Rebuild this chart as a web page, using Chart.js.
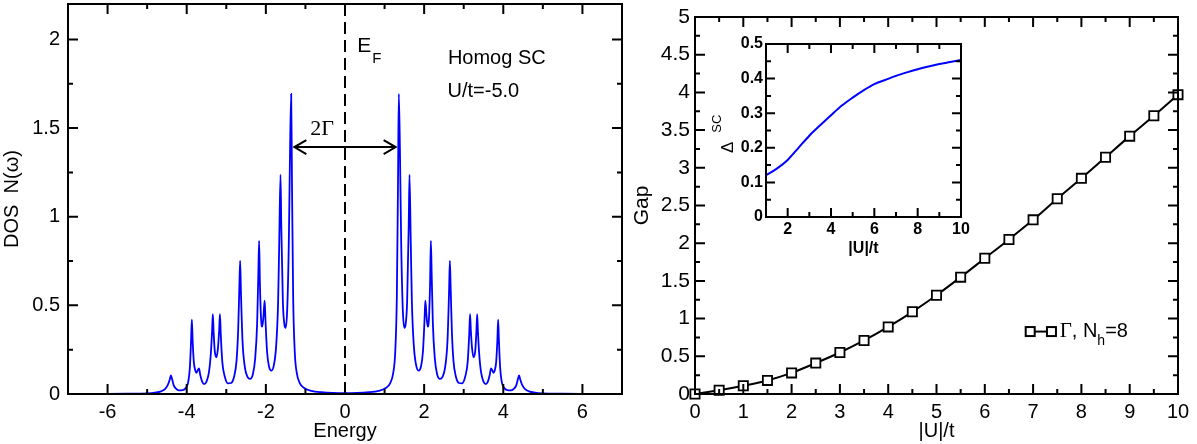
<!DOCTYPE html>
<html>
<head>
<meta charset="utf-8">
<script src="https://cdn.jsdelivr.net/npm/chart.js@4.4.1/dist/chart.umd.min.js"></script>
<style>
  html, body { margin: 0; padding: 0; background: #fff; }
  body { width: 1197px; height: 444px; position: relative; overflow: hidden; }
  canvas { position: absolute; }
  #dos { left: 0; top: 0; }
  #gap { left: 630px; top: 0; }
  #inset { left: 700px; top: 30px; }
</style>
</head>
<body>
<canvas id="dos" width="640" height="444"></canvas>
<canvas id="gap" width="567" height="444"></canvas>
<canvas id="inset" width="275" height="228"></canvas>
<script>
// ---- left panel: density of states, U/t = -5.0 ----
const dosEnergy = [
  -7.00, -6.00, -5.50, -5.00, -4.80, -4.65, -4.55, -4.48, -4.43, -4.40, -4.37, -4.33, -4.27, -4.20,
  -4.10, -4.02, -3.96, -3.92, -3.89, -3.87, -3.85, -3.82, -3.78, -3.75, -3.72, -3.69, -3.66, -3.61,
  -3.56, -3.50, -3.44, -3.39, -3.36, -3.34, -3.32, -3.29, -3.25, -3.21, -3.18, -3.16, -3.14, -3.10,
  -3.04, -2.96, -2.88, -2.80, -2.74, -2.70, -2.67, -2.65, -2.63, -2.59, -2.53, -2.46, -2.40, -2.33,
  -2.27, -2.22, -2.19, -2.17, -2.15, -2.12, -2.09, -2.06, -2.03, -2.01, -1.97, -1.92, -1.86, -1.80,
  -1.74, -1.69, -1.66, -1.63, -1.61, -1.57, -1.53, -1.50, -1.46, -1.42, -1.39, -1.36, -1.34, -1.31,
  -1.27, -1.22, -1.14, -1.02, -0.85, -0.60, -0.30, 0.00,
  0.30, 0.60, 0.85, 1.02, 1.14, 1.22, 1.27, 1.31, 1.34, 1.36, 1.39, 1.42, 1.46, 1.50,
  1.53, 1.57, 1.61, 1.63, 1.66, 1.69, 1.74, 1.80, 1.86, 1.92, 1.97, 2.01, 2.03, 2.06,
  2.09, 2.12, 2.15, 2.17, 2.19, 2.22, 2.27, 2.33, 2.40, 2.46, 2.53, 2.59, 2.63, 2.65,
  2.67, 2.70, 2.74, 2.80, 2.88, 2.96, 3.04, 3.10, 3.14, 3.16, 3.18, 3.21, 3.25, 3.29,
  3.32, 3.34, 3.36, 3.39, 3.44, 3.50, 3.56, 3.61, 3.66, 3.69, 3.72, 3.75, 3.78, 3.82,
  3.85, 3.87, 3.89, 3.92, 3.96, 4.02, 4.10, 4.20, 4.27, 4.33, 4.37, 4.40, 4.43, 4.48,
  4.55, 4.65, 4.80, 5.00, 5.50, 6.00, 7.00
];
const dosValue = [
  0.000, 0.001, 0.002, 0.004, 0.008, 0.015, 0.028, 0.050, 0.080, 0.105, 0.085, 0.050, 0.030, 0.021,
  0.022, 0.035, 0.070, 0.150, 0.300, 0.420, 0.300, 0.180, 0.130, 0.120, 0.135, 0.145, 0.110, 0.070,
  0.056, 0.070, 0.120, 0.230, 0.350, 0.450, 0.350, 0.240, 0.207, 0.260, 0.360, 0.450, 0.340, 0.180,
  0.100, 0.060, 0.062, 0.100, 0.190, 0.360, 0.600, 0.751, 0.580, 0.300, 0.150, 0.095, 0.085, 0.110,
  0.200, 0.400, 0.680, 0.864, 0.620, 0.420, 0.380, 0.440, 0.527, 0.420, 0.240, 0.155, 0.132, 0.160,
  0.270, 0.520, 0.880, 1.237, 0.950, 0.520, 0.390, 0.373, 0.480, 0.850, 1.350, 1.693, 1.200, 0.550,
  0.240, 0.120, 0.060, 0.032, 0.018, 0.010, 0.006, 0.005,
  0.006, 0.010, 0.018, 0.032, 0.060, 0.120, 0.240, 0.550, 1.200, 1.693, 1.350, 0.850, 0.480, 0.373,
  0.390, 0.520, 0.950, 1.237, 0.880, 0.520, 0.270, 0.160, 0.132, 0.155, 0.240, 0.420, 0.527, 0.440,
  0.380, 0.420, 0.620, 0.864, 0.680, 0.400, 0.200, 0.110, 0.085, 0.095, 0.150, 0.300, 0.580, 0.751,
  0.600, 0.360, 0.190, 0.100, 0.062, 0.060, 0.100, 0.180, 0.340, 0.450, 0.360, 0.260, 0.207, 0.240,
  0.350, 0.450, 0.350, 0.230, 0.120, 0.070, 0.056, 0.070, 0.110, 0.145, 0.135, 0.120, 0.130, 0.180,
  0.300, 0.420, 0.300, 0.150, 0.070, 0.035, 0.022, 0.021, 0.030, 0.050, 0.085, 0.105, 0.080, 0.050,
  0.028, 0.015, 0.008, 0.004, 0.002, 0.001, 0.000
];
const fermiX = [0, 0];
const fermiY = [0, 2.2];
const dosXTicks = [-6, -4, -2, 0, 2, 4, 6];
const dosXMinor = [-7, -5, -3, -1, 1, 3, 5, 7];
const dosYTicks = [0, 0.5, 1, 1.5, 2];
const dosYMinor = [0.25, 0.75, 1.25, 1.75];

// ---- right panel: gap vs |U|/t ----
const gapU = [0, 0.5, 1, 1.5, 2, 2.5, 3, 3.5, 4, 4.5, 5, 5.5, 6, 6.5, 7, 7.5, 8, 8.5, 9, 9.5, 10];
const gapVal = [0, 0.05, 0.11, 0.18, 0.28, 0.41, 0.55, 0.71, 0.89, 1.09, 1.31, 1.55, 1.80, 2.05, 2.31, 2.59, 2.86, 3.14, 3.42, 3.69, 3.97];
const gapXTicks = [0, 1, 2, 3, 4, 5, 6, 7, 8, 9, 10];
const gapXMinor = [0.5, 1.5, 2.5, 3.5, 4.5, 5.5, 6.5, 7.5, 8.5, 9.5];
const gapYTicks = [0, 0.5, 1, 1.5, 2, 2.5, 3, 3.5, 4, 4.5, 5];
const gapYMinor = [0.25, 0.75, 1.25, 1.75, 2.25, 2.75, 3.25, 3.75, 4.25, 4.75];

// ---- inset: order parameter ----
const scU = [1, 1.5, 2, 2.5, 3, 3.5, 4, 4.5, 5, 5.5, 6, 6.5, 7, 7.5, 8, 8.5, 9, 9.5, 10];
const scDelta = [0.121, 0.140, 0.165, 0.200, 0.235, 0.265, 0.294, 0.322, 0.345, 0.366, 0.384, 0.396, 0.408, 0.418, 0.427, 0.435, 0.442, 0.448, 0.454];
const scXTicks = [2, 4, 6, 8, 10];
const scXMinor = [1, 3, 5, 7, 9];
const scYTicks = [0, 0.1, 0.2, 0.3, 0.4, 0.5];
const scYMinor = [0.05, 0.15, 0.25, 0.35, 0.45];

const SANS = "'Liberation Sans', Arial, sans-serif";
const SERIF = "'Liberation Serif', 'Times New Roman', serif";
Chart.defaults.color = '#000';
Chart.defaults.font.family = SANS;

const pts = (xs, ys) => xs.map((x, i) => ({ x: x, y: ys[i] }));
const setTicks = arr => scale => { scale.ticks = arr.map(v => ({ value: v })); };

// inward ticks on all four sides plus the box
function frameTicks(xMaj, xMin, yMaj, yMin, majLen, minLen) {
  return {
    id: 'frameTicks',
    afterDatasetsDraw(chart) {
      const { ctx, chartArea: a } = chart;
      const x = chart.scales.x, y = chart.scales.y;
      ctx.save();
      ctx.strokeStyle = '#000';
      ctx.lineWidth = 2;
      ctx.beginPath();
      const xt = (vals, len) => vals.forEach(v => {
        const p = x.getPixelForValue(v);
        ctx.moveTo(p, a.bottom); ctx.lineTo(p, a.bottom - len);
        ctx.moveTo(p, a.top); ctx.lineTo(p, a.top + len);
      });
      const yt = (vals, len) => vals.forEach(v => {
        const p = y.getPixelForValue(v);
        ctx.moveTo(a.left, p); ctx.lineTo(a.left + len, p);
        ctx.moveTo(a.right, p); ctx.lineTo(a.right - len, p);
      });
      xt(xMaj, majLen); xt(xMin, minLen);
      yt(yMaj, majLen); yt(yMin, minLen);
      ctx.stroke();
      ctx.strokeRect(a.left, a.top, a.right - a.left, a.bottom - a.top);
      ctx.restore();
    }
  };
}

function axisOpts(min, max, tickArr, size, pad, title, titlePad, fontSize, bold) {
  return {
    type: 'linear', min: min, max: max,
    afterBuildTicks: setTicks(tickArr),
    afterFit: scale => {
      if (scale.isHorizontal()) scale.height = size; else scale.width = size;
      // the layout padding alone decides where the plot box sits
      scale.paddingTop = 0; scale.paddingBottom = 0;
      scale.paddingLeft = 0; scale.paddingRight = 0;
    },
    grid: { display: false, drawTicks: false },
    border: { display: false },
    ticks: { padding: pad, font: { size: fontSize, weight: bold ? 'bold' : 'normal' }, callback: v => String(v) },
    title: { display: !!title, text: title, font: { size: fontSize, weight: bold ? 'bold' : 'normal' }, padding: titlePad }
  };
}

// text labels and the 2Γ arrow on the DOS panel
const dosNotes = {
  id: 'dosNotes',
  afterDraw(chart) {
    const { ctx } = chart;
    const x = chart.scales.x, y = chart.scales.y;
    ctx.save();
    ctx.fillStyle = '#000';
    ctx.textBaseline = 'alphabetic';
    ctx.font = '21px ' + SANS;
    ctx.fillText('E', x.getPixelForValue(0.31), y.getPixelForValue(1.927));
    ctx.font = '15px ' + SANS;
    ctx.fillText('F', x.getPixelForValue(0.69), y.getPixelForValue(1.87));
    ctx.font = '20px ' + SANS;
    ctx.fillText('Homog SC', x.getPixelForValue(2.6), y.getPixelForValue(1.859));
    ctx.fillText('U/t=-5.0', x.getPixelForValue(2.59), y.getPixelForValue(1.678));
    ctx.font = '22px ' + SERIF;
    ctx.fillText('2\u0393', x.getPixelForValue(-0.88), y.getPixelForValue(1.463));
    // double arrow
    const x1 = x.getPixelForValue(-1.28), x2 = x.getPixelForValue(1.28), ay = y.getPixelForValue(1.393);
    ctx.strokeStyle = '#000';
    ctx.lineWidth = 2;
    ctx.beginPath();
    ctx.moveTo(x1, ay); ctx.lineTo(x2, ay);
    ctx.moveTo(x1 + 12, ay - 7); ctx.lineTo(x1, ay); ctx.lineTo(x1 + 12, ay + 7);
    ctx.moveTo(x2 - 12, ay - 7); ctx.lineTo(x2, ay); ctx.lineTo(x2 - 12, ay + 7);
    ctx.stroke();
    ctx.restore();
  }
};

new Chart(document.getElementById('dos'), {
  type: 'line',
  data: {
    datasets: [
      {
        data: pts(dosEnergy, dosValue),
        borderColor: '#0000ff', borderWidth: 1.8,
        pointRadius: 0, cubicInterpolationMode: 'monotone'
      },
      {
        data: pts(fermiX, fermiY),
        borderColor: '#000', borderWidth: 2, borderDash: [12, 6],
        pointRadius: 0
      }
    ]
  },
  options: {
    responsive: false, animation: false, devicePixelRatio: 1,
    layout: { padding: { top: 4, right: 18, left: 0, bottom: 0 } },
    plugins: { legend: { display: false }, tooltip: { enabled: false } },
    scales: {
      x: axisOpts(-7, 7, dosXTicks, 50, 6, 'Energy', { top: 0, bottom: 1 }, 20, false),
      y: axisOpts(0, 2.2, dosYTicks, 68, 8, 'DOS  N(\u03c9)', { top: 0, bottom: 10 }, 20, false)
    }
  },
  plugins: [frameTicks(dosXTicks, dosXMinor, dosYTicks, dosYMinor, 10, 5), dosNotes]
});

// legend of the gap panel
const gapLegend = {
  id: 'gapLegend',
  afterDraw(chart) {
    const { ctx } = chart;
    const x = chart.scales.x, y = chart.scales.y;
    const s1 = x.getPixelForValue(6.94), s2 = x.getPixelForValue(7.38), ly = y.getPixelForValue(0.828);
    ctx.save();
    ctx.strokeStyle = '#000';
    ctx.lineWidth = 2;
    ctx.beginPath();
    ctx.moveTo(s1, ly); ctx.lineTo(s2, ly);
    ctx.stroke();
    ctx.fillStyle = '#fff';
    [s1, s2].forEach(c => { ctx.fillRect(c - 4.5, ly - 4.5, 9, 9); ctx.strokeRect(c - 4.5, ly - 4.5, 9, 9); });
    ctx.fillStyle = '#000';
    let tx = x.getPixelForValue(7.55);
    const by = y.getPixelForValue(0.755);
    ctx.font = '21px ' + SERIF;
    ctx.fillText('\u0393', tx, by);
    tx += ctx.measureText('\u0393').width;
    ctx.font = '20px ' + SANS;
    ctx.fillText(', N', tx, by);
    tx += ctx.measureText(', N').width;
    ctx.font = '14px ' + SANS;
    ctx.fillText('h', tx, by + 8);
    tx += ctx.measureText('h').width;
    ctx.font = '20px ' + SANS;
    ctx.fillText('=8', tx, by);
    ctx.restore();
  }
};

new Chart(document.getElementById('gap'), {
  type: 'line',
  data: {
    datasets: [{
      data: pts(gapU, gapVal),
      borderColor: '#000', borderWidth: 2,
      pointStyle: 'rect', pointRadius: 6.5, pointBorderWidth: 1.8,
      pointBackgroundColor: '#fff', pointBorderColor: '#000',
      cubicInterpolationMode: 'monotone', clip: false
    }]
  },
  options: {
    responsive: false, animation: false, devicePixelRatio: 1,
    layout: { padding: { top: 17, right: 19, left: 0, bottom: 0 } },
    plugins: { legend: { display: false }, tooltip: { enabled: false } },
    scales: {
      x: axisOpts(0, 10, gapXTicks, 50, 6, '|U|/t', { top: 0, bottom: 1 }, 20, false),
      y: axisOpts(0, 5, gapYTicks, 65, 5, 'Gap', { top: 0, bottom: 6 }, 21, false)
    }
  },
  plugins: [frameTicks(gapXTicks, gapXMinor, gapYTicks, gapYMinor, 10, 5), gapLegend]
});

// Δ_SC label of the inset y axis
const insetTitle = {
  id: 'insetTitle',
  afterDraw(chart) {
    const { ctx } = chart;
    ctx.save();
    ctx.fillStyle = '#000';
    ctx.translate(33, 123);
    ctx.rotate(-Math.PI / 2);
    ctx.textBaseline = 'alphabetic';
    ctx.font = '17px ' + SANS;
    ctx.fillText('\u0394', 0, 0);
    const w = ctx.measureText('\u0394').width;
    ctx.font = '13px ' + SANS;
    ctx.fillText('SC', w + 9, -12);
    ctx.restore();
  }
};

new Chart(document.getElementById('inset'), {
  type: 'line',
  data: {
    datasets: [{
      data: pts(scU, scDelta),
      borderColor: '#0000ff', borderWidth: 2,
      pointRadius: 0, cubicInterpolationMode: 'monotone'
    }]
  },
  options: {
    responsive: false, animation: false, devicePixelRatio: 1,
    layout: { padding: { top: 14, right: 14, left: 0, bottom: 0 } },
    plugins: { legend: { display: false }, tooltip: { enabled: false } },
    scales: {
      x: axisOpts(1, 10, scXTicks, 41, 3, '|U|/t', { top: 0, bottom: 0 }, 16, true),
      y: axisOpts(0, 0.5, scYTicks, 66, 3, '', 0, 16, true)
    }
  },
  plugins: [frameTicks(scXTicks, scXMinor, scYTicks, scYMinor, 9, 5), insetTitle]
});
</script>
</body>
</html>
